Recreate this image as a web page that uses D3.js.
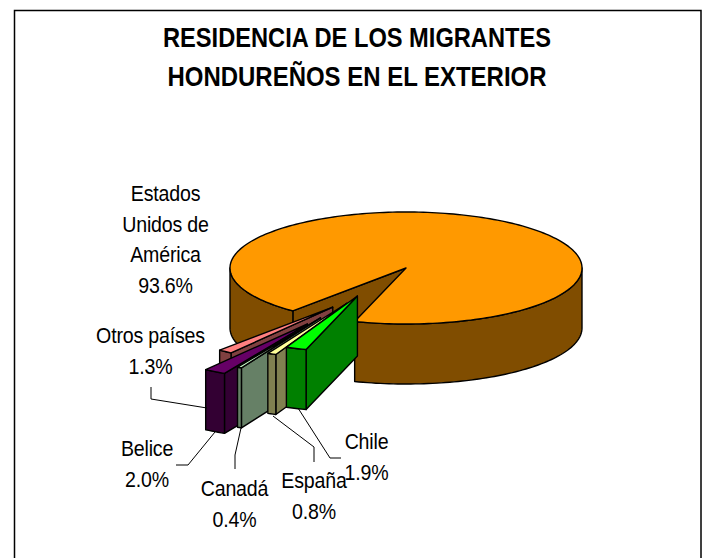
<!DOCTYPE html>
<html><head><meta charset="utf-8">
<script src="https://d3js.org/d3.v7.min.js"></script>
<style>html,body{margin:0;padding:0;background:#fff}svg{display:block}text{font-family:"Liberation Sans",Arial,sans-serif;fill:#000}</style>
</head><body><div id="c"></div>
<script>
const categories = ["Estados Unidos de América","Chile","España","Canadá","Belice","Otros países"];
const values = [93.6,1.9,0.8,0.4,2.0,1.3];
const topColors = ["#FF9900","#00FF00","#FFFF99","#CCFFCC","#660066","#FF8080"];
const sideColors = ["#804D00","#008000","#808050","#668066","#330033","#804040"];
const explodeX = [0,0.276,0.336,0.486,0.56,0.416];
const explodeY = [0,0.50,0.63,0.89,1.0,0.70];
const drawOrder = [5,4,3,2,1];

const W=702,H=558,cx=406,cy=268,rx=176,ry=56,depth=60;
const svg=d3.select("#c").append("svg").attr("width",W).attr("height",H);
svg.append("rect").attr("x",14.5).attr("y",10.5).attr("width",686.5).attr("height",600).attr("fill","#fff").attr("stroke","#000").attr("stroke-width",1.5);

const startDeg=130; // clockwise on screen from +x
const pieGen=d3.pie().sort(null).startAngle(startDeg*Math.PI/180).endAngle((startDeg+360)*Math.PI/180);
const arcs=pieGen(values);
const pt=(a,ox=0,oy=0,d=0)=>[cx+ox+rx*Math.cos(a),cy+oy+ry*Math.sin(a)+d];
function arcPts(a0,a1,ox,oy,d){const n=Math.max(2,Math.ceil(Math.abs(a1-a0)*40));return d3.range(n+1).map(i=>pt(a0+(a1-a0)*i/n,ox,oy,d));}
const line=d3.line();
const poly=(pts,fill)=>svg.append("path").attr("d",line(pts)+"Z").attr("fill",fill).attr("stroke","#000").attr("stroke-width",1.4).attr("stroke-linejoin","round");

function drawSlice(d,i){
  const mid=(d.startAngle+d.endAngle)/2;
  const dx=i===0?0:explodeX[i]*rx*Math.sign(Math.cos(mid));
  const dy=i===0?0:explodeY[i]*ry*Math.sign(Math.sin(mid));
  const a0=d.startAngle,a1=d.endAngle;
  const apex=[cx+dx,cy+dy];
  if(i===0){
    poly([pt(a0),apex,[apex[0],apex[1]+depth],pt(a0,0,0,depth)],sideColors[i]);
    const pi=Math.PI;
    poly(arcPts(a0,pi,0,0,0).concat(arcPts(pi,a0,0,0,depth)),sideColors[i]);
    const e=a1-2*pi;
    poly(arcPts(0,e,0,0,0).concat(arcPts(e,0,0,0,depth)),sideColors[i]);
    poly([apex].concat(arcPts(a0,a1,0,0,0)),topColors[i]);
  } else {
    const s=pt(a0,dx,dy);
    poly([apex,s,[s[0],s[1]+depth],[apex[0],apex[1]+depth]],sideColors[i]);
    poly(arcPts(a0,a1,dx,dy,0).concat(arcPts(a1,a0,dx,dy,depth)),sideColors[i]);
    poly([apex].concat(arcPts(a0,a1,dx,dy,0)),topColors[i]);
  }
}
drawSlice(arcs[0],0);
drawOrder.forEach(i=>drawSlice(arcs[i],i));

[["RESIDENCIA DE LOS MIGRANTES",357,47,388],["HONDUREÑOS EN EL EXTERIOR",357,86,379]].forEach(t=>{
  svg.append("text").text(t[0]).attr("x",t[1]).attr("y",t[2]).attr("text-anchor","middle")
   .attr("font-size",28).attr("font-weight","bold").attr("textLength",t[3]).attr("lengthAdjust","spacingAndGlyphs");
});
[[[298,408],[330,458],[341,458]],[[273,416],[314,447],[314,462]],[[241,428],[235,455],[235,469]],[[215,432],[188,465],[176,465]],[[207,408],[151,399],[151,387]]]
.forEach(p=>svg.append("path").attr("d",line(p)).attr("fill","none").attr("stroke","#000").attr("stroke-width",1));
const pct=v=>v.toFixed(1)+"%";
const labelText=[["Estados","Unidos de","América",pct(values[0])],["Chile",pct(values[1])],["España",pct(values[2])],["Canadá",pct(values[3])],["Belice",pct(values[4])],["Otros países",pct(values[5])]];
const labelPos=[[165.5,201],[366.5,449],[314,488],[234.5,496],[147,456],[150.5,343]];
labelText.forEach((ls,i)=>ls.forEach((s,j)=>{
  svg.append("text").text(s).attr("transform",`translate(${labelPos[i][0]},${labelPos[i][1]+j*30.5}) scale(0.87,1)`).attr("text-anchor","middle").attr("font-size",22.5).attr("letter-spacing",-0.2);
}));
</script></body></html>
